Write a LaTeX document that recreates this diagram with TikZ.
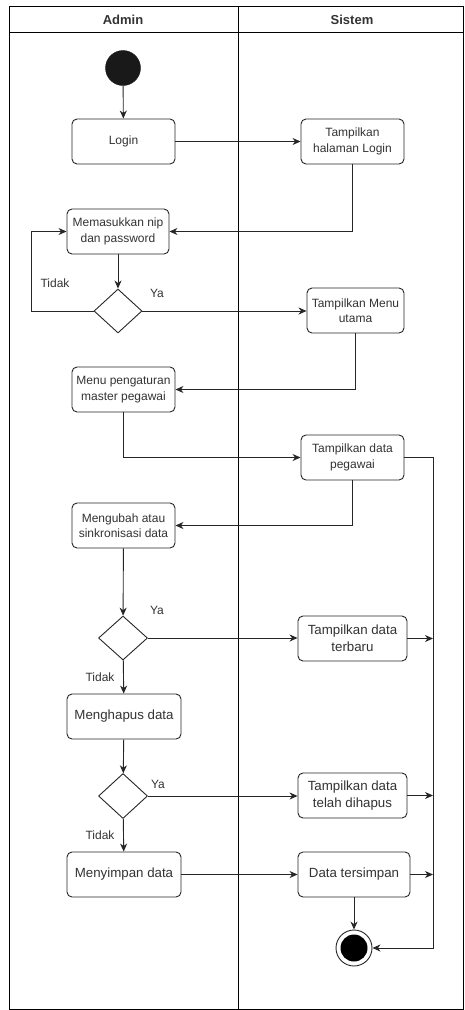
\documentclass[tikz,border=0pt]{standalone}
\usepackage{fontspec}
\setmainfont{Liberation Sans}
\usetikzlibrary{shapes.geometric, arrows.meta}

\begin{document}
\begin{tikzpicture}[
					x=1pt, y=-1pt,
					box/.style={rectangle, rounded corners=5pt, minimum width=103pt, minimum height=45pt, align=center, draw=black!85, fill=white, text=black!80, inner sep=2pt, line width=0.9pt, font=\fontsize{12}{15.5}\selectfont},
					bigbox/.style={box, font=\fontsize{13.3}{17}\selectfont},
					decision/.style={diamond, draw=black!85, fill=white, minimum width=48pt, minimum height=44pt, inner sep=0pt, line width=0.9pt},
					lbl/.style={text=black!80, font=\fontsize{12}{14}\selectfont},
					lane/.style={text=black!80, font=\fontsize{13}{15}\selectfont\bfseries},
					arrow/.style={-{Stealth[length=8pt, width=7pt, inset=2.5pt]}, line width=0.9pt, draw=black!85}
					]
					\useasboundingbox (0,0) rectangle (464,1010);
					
					% swimlanes
					\draw [line width=0.9pt] (9,6) rectangle (463,1009);
					\draw [line width=0.9pt] (9,32) -- (463,32);
					\draw [line width=0.9pt] (238,6) -- (238,1009);
					\node (admin) [lane] at (123,19.5) {Admin};
					\node (sistem) [lane] at (352,19.5) {Sistem};
					
					\node (start) [circle, fill=black!90, draw=black!90, minimum size=35pt] at (123,68) {};
					\node (login) [box] at (123.5,141.5) {Login};
					\node (showlogin) [box] at (352.5,141.5) {Tampilkan\\halaman Login};
					\node (input) [box, minimum width=102pt] at (118,231.5) {Memasukkan nip\\dan password};
					\node (check) [decision] at (118,311) {};
					\node (showmenu) [box, minimum width=97pt] at (355.5,310.5) {Tampilkan Menu\\utama};
					\node (menu) [box] at (123.5,389.5) {Menu pengaturan\\master pegawai};
					\node (showdata) [box] at (352.5,457.5) {Tampilkan data\\pegawai};
					\node (edit) [box] at (123.5,525.5) {Mengubah atau\\sinkronisasi data};
					\node (ifedit) [decision, minimum width=49pt] at (123,638) {};
					\node (shownew) [bigbox, minimum width=109pt] at (352.5,638.5) {Tampilkan data\\terbaru};
					\node (delete) [bigbox, minimum width=114pt] at (124,716.5) {Menghapus data};
					\node (ifdelete) [decision, minimum width=49pt, minimum height=45pt] at (123,796) {};
					\node (showdel) [bigbox, minimum width=109pt] at (352.5,795.5) {Tampilkan data\\telah dihapus};
					\node (save) [bigbox, minimum width=114pt] at (124,874.5) {Menyimpan data};
					\node (saved) [bigbox, minimum width=112pt] at (354,874.5) {Data tersimpan};
					\node (stop) [circle, draw=black!85, line width=0.9pt, minimum size=36pt, path picture={\fill [black] (path picture bounding box.center) circle (13.5pt);}] at (354,948) {};
					\coordinate (rail) at (433,948);
					
					\draw [arrow] (start) -- (login);
					\draw [arrow] (login) -- (showlogin);
					\draw [arrow] (showlogin.south) |- (input.east);
					\draw [arrow] (input) -- (check);
					\draw [arrow] (check.west) -- ++(-62,0) |- (input.west);
					\draw [arrow] (check) -- (showmenu.west |- check);
					\draw [arrow] (showmenu.south) |- (menu.east);
					\draw [arrow] (menu.south) |- (showdata.west);
					\draw [arrow] (showdata.east) -| (rail) -- (stop.east);
					\draw [arrow] (showdata.south) |- (edit.east);
					\draw [arrow] (edit) -- (ifedit);
					\draw [arrow] (ifedit) -- (shownew.west |- ifedit);
					\draw [arrow] (shownew.east) -- (shownew.east -| rail);
					\draw [arrow] (ifedit) -- (delete);
					\draw [arrow] (delete) -- (ifdelete);
					\draw [arrow] (ifdelete) -- (showdel.west |- ifdelete);
					\draw [arrow] (showdel.east) -- (showdel.east -| rail);
					\draw [arrow] (ifdelete) -- (save);
					\draw [arrow] (save) -- (saved);
					\draw [arrow] (saved.east) -- (saved.east -| rail);
					\draw [arrow] (saved) -- (stop);
					
					% guard labels
					\node (no1) [lbl] at (55,283) {Tidak};
					\node (yes1) [lbl] at (157,293) {Ya};
					\node (yes2) [lbl] at (157,610) {Ya};
					\node (no2) [lbl] at (100,677) {Tidak};
					\node (yes3) [lbl] at (158,784) {Ya};
					\node (no3) [lbl] at (100,835) {Tidak};
				\end{tikzpicture}
\end{document}
